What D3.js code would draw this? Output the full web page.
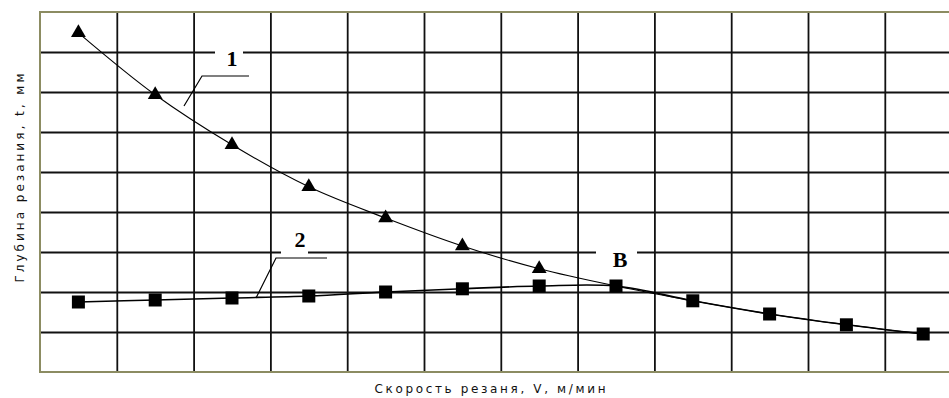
<!DOCTYPE html>
<html>
<head>
<meta charset="utf-8">
<script src="https://cdn.jsdelivr.net/npm/d3@7"></script>
<style>
  html, body { margin: 0; padding: 0; background: #fff; }
  svg { display: block; }
</style>
</head>
<body>
<svg id="chart" width="949" height="398"></svg>
<script>
// Cutting speed steps (column centres) and measured cutting depths
const speed = [1, 2, 3, 4, 5, 6, 7, 8, 9, 10, 11, 12];
// Curve 1 (triangles): depth values at speeds 1..7
const depthTriangles = [8.48, 6.93, 5.68, 4.63, 3.85, 3.15, 2.58];
// Curve 2 (squares): depth values at speeds 1..12
const depthSquares = [1.75, 1.8, 1.85, 1.9, 2.0, 2.08, 2.15, 2.15, 1.78, 1.45, 1.18, 0.95];
// Index of the intersection point "В" in the squares series
const pointB = 7;

const xTitle = "Скорость резаня, V,  м/мин";
const yTitle = "Глубина резания, t, мм";

const svg = d3.select("#chart");
const W = 949, H = 398;
const plot = { left: 40, top: 12, bottom: 372, colW: 76.8 };

const x = d3.scaleLinear()
  .domain([0.5, 12.5])
  .range([plot.left, plot.left + 12 * plot.colW]);
const y = d3.scaleLinear().domain([0, 9]).range([plot.bottom, plot.top]);

// Grid: vertical and horizontal lines through axes with full-length ticks
svg.append("g")
  .attr("transform", `translate(0,${plot.bottom})`)
  .call(d3.axisBottom(x).tickValues(d3.range(1.5, 12.5, 1))
    .tickSize(-(plot.bottom - plot.top)).tickFormat(""));
svg.append("g")
  .attr("transform", `translate(${plot.left},0)`)
  .call(d3.axisLeft(y).tickValues(d3.range(1, 9, 1))
    .tickSize(-(W - plot.left)).tickFormat(""));
svg.selectAll(".domain").remove();
svg.selectAll(".tick line").attr("stroke", "#111").attr("stroke-width", 1.8);

// Gaps in the grid behind the curve labels
const gaps = [
  { x0: 215, x1: 243, v: 8 },
  { x0: 281, x1: 308, v: 3 },
  { x0: 596, x1: 637, v: 3 }
];
svg.append("g").selectAll("rect").data(gaps).join("rect")
  .attr("x", d => d.x0).attr("width", d => d.x1 - d.x0)
  .attr("y", d => y(d.v) - 2).attr("height", 4)
  .attr("fill", "#fff");

// Frame (left, top, bottom)
const frameColor = "#8c8c62";
svg.append("path")
  .attr("d", `M${W},${plot.top}H${plot.left}V${plot.bottom}H${W}`)
  .attr("fill", "none").attr("stroke", frameColor).attr("stroke-width", 2);

const line = d3.line()
  .x(d => x(d[0])).y(d => y(d[1]))
  .curve(d3.curveCatmullRom.alpha(0.5));

// Curve 2: through all squares
const sqPts = speed.map((v, i) => [v, depthSquares[i]]);
svg.append("path").datum(sqPts)
  .attr("d", line).attr("fill", "none")
  .attr("stroke", "#000").attr("stroke-width", 1.6);

// Curve 1: through triangles, then joining curve 2 from point В onward
const triPts = depthTriangles.map((t, i) => [speed[i], t])
  .concat(sqPts.slice(pointB));
svg.append("path").datum(triPts)
  .attr("d", line).attr("fill", "none")
  .attr("stroke", "#000").attr("stroke-width", 1.1);

// Markers
svg.append("g").selectAll("rect").data(sqPts).join("rect")
  .attr("x", d => x(d[0]) - 6.5).attr("y", d => y(d[1]) - 6.5)
  .attr("width", 13).attr("height", 13).attr("fill", "#000");
svg.append("g").selectAll("path").data(depthTriangles.map((t, i) => [speed[i], t])).join("path")
  .attr("d", d3.symbol(d3.symbolTriangle, 95))
  .attr("transform", d => `translate(${x(d[0])},${y(d[1])})`)
  .attr("fill", "#000");

// Curve labels with leader lines
const labelFont = "'Liberation Serif', 'DejaVu Serif', serif";
const labels = [
  { text: "1", lx: 232, ly: 66, path: "M249,76H202L184,106" },
  { text: "2", lx: 300, ly: 247, path: "M327,258H276L256,298" },
  { text: "В", lx: 620, ly: 267, path: null }
];
labels.forEach(l => {
  if (l.path) {
    svg.append("path").attr("d", l.path).attr("fill", "none")
      .attr("stroke", "#000").attr("stroke-width", 1.2);
  }
  svg.append("text").attr("x", l.lx).attr("y", l.ly)
    .attr("text-anchor", "middle")
    .attr("font-family", labelFont).attr("font-weight", "bold")
    .attr("font-size", 22).attr("fill", "#000").text(l.text);
});

// Axis titles
svg.append("text")
  .attr("x", 490).attr("y", 393).attr("text-anchor", "middle")
  .attr("font-family", "'DejaVu Sans', Verdana, sans-serif")
  .attr("font-size", 12).attr("fill", "#111")
  .attr("textLength", 231).attr("lengthAdjust", "spacing")
  .text(xTitle);
svg.append("text")
  .attr("transform", "translate(24,178) rotate(-90)")
  .attr("text-anchor", "middle")
  .attr("font-family", "'DejaVu Sans', Verdana, sans-serif")
  .attr("font-size", 12).attr("fill", "#111")
  .attr("textLength", 209).attr("lengthAdjust", "spacing")
  .text(yTitle);
</script>
</body>
</html>
